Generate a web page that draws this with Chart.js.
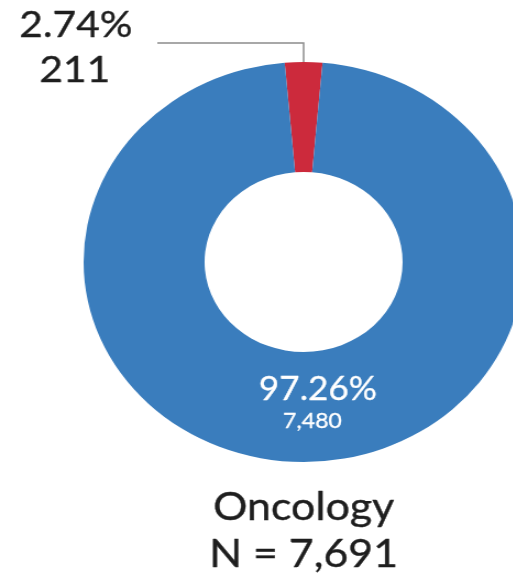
<!DOCTYPE html>
<html>
<head>
<meta charset="utf-8">
<script src="https://cdn.jsdelivr.net/npm/chart.js@4/dist/chart.umd.min.js"></script>
<style>
	html, body { margin: 0; padding: 0; background: #fff; overflow: hidden; width: 513px; height: 584px; }
	/* the source picture is stretched a little sideways */
	#wrap { width: 480px; height: 584px; transform: scaleX(1.1); transform-origin: 0 0; }
</style>
</head>
<body>
<div id="wrap"><canvas id="chart" width="480" height="584"></canvas></div>
<script>
const categories = ['Other', 'Oncology']
const counts = [211, 7480]
const colors = ['#cc2a3c', '#3a7dbd']
const groupName = 'Oncology'

const total = counts.reduce((a, b) => a + b, 0)
const pct = (v) => (v / total * 100).toFixed(2) + '%'
const fmt = (v) => v.toLocaleString('en-US')
const fontFamily = 'Lato, "Open Sans", sans-serif'

// fill text and thicken it a bit, the source font is heavier than Lato
const drawText = (ctx, text, x, y, thick) => {
	ctx.fillText(text, x, y)
	if (thick) {
		ctx.lineWidth = thick
		ctx.strokeStyle = ctx.fillStyle
		ctx.strokeText(text, x, y)
	}
}

const labelPlugin = {
	id: 'sliceLabels',
	afterDraw(chart) {
		const ctx = chart.ctx
		const arcs = chart.getDatasetMeta(0).data
		const small = arcs[0]
		const big = arcs[1]
		const mid = (small.startAngle + small.endAngle) / 2
		const ax = small.x + Math.cos(mid) * small.outerRadius
		const ay = small.y + Math.sin(mid) * small.outerRadius

		ctx.save()
		// leader line for the small slice
		ctx.strokeStyle = '#8c8c8c'
		ctx.lineWidth = 1.5
		ctx.beginPath()
		ctx.moveTo(143, 43)
		ctx.lineTo(ax, 43)
		ctx.lineTo(ax, ay)
		ctx.stroke()

		ctx.textAlign = 'center'
		ctx.textBaseline = 'alphabetic'
		ctx.lineJoin = 'round'
		ctx.fillStyle = '#1e1e1e'
		ctx.font = '37px ' + fontFamily
		drawText(ctx, pct(counts[0]), 69, 37, 0.4)
		drawText(ctx, fmt(counts[0]), 68, 82, 0.4)

		// big slice label, inside the ring near the bottom
		const midR = (big.innerRadius + big.outerRadius) / 2
		ctx.fillStyle = '#ffffff'
		ctx.font = '32px ' + fontFamily
		drawText(ctx, pct(counts[1]), big.x + 13, big.y + midR - 7, 0.3)
		ctx.font = '21px ' + fontFamily
		drawText(ctx, fmt(counts[1]), big.x + 8, big.y + midR + 21, 0.3)

		// group name and N under the chart
		ctx.fillStyle = '#1e1e1e'
		ctx.font = '39px ' + fontFamily
		drawText(ctx, groupName, big.x, 520, 0.4)
		drawText(ctx, 'N = ' + fmt(total), big.x, 567, 0.4)
		ctx.restore()
	},
}

const context = document.getElementById('chart').getContext('2d')
const chart = new Chart(context, {
	type: 'doughnut',
	data: {
		labels: categories,
		datasets: [
			{
				data: counts,
				backgroundColor: colors,
				borderWidth: 0,
				hoverOffset: 0,
			},
		],
	},
	options: {
		responsive: false,
		animation: false,
		cutout: '45%',
		rotation: -(counts[0] / total) * 180,
		layout: {
			padding: { left: 76, right: 4, top: 62, bottom: 122 },
		},
		plugins: {
			legend: { display: false },
			tooltip: { enabled: false },
		},
	},
	plugins: [labelPlugin],
})
</script>
</body>
</html>
